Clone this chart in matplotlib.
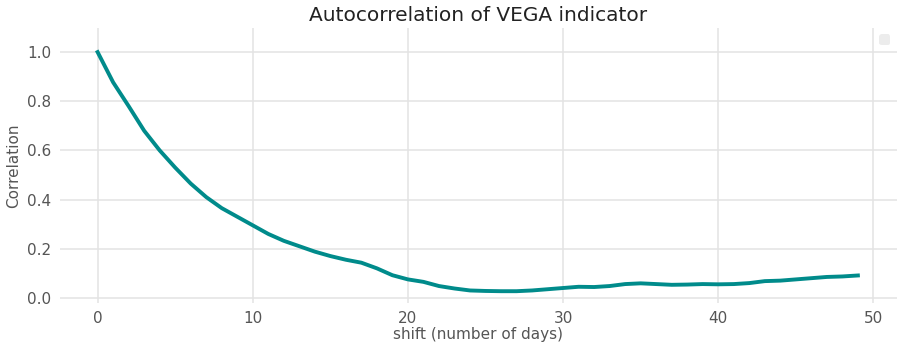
import matplotlib
matplotlib.use("Agg")
import matplotlib.pyplot as plt
import numpy as np

# autocorrelation values, one per shift
shift = np.arange(50)
corr = [1.0, 0.877, 0.78, 0.68, 0.60, 0.53, 0.465, 0.41, 0.365, 0.33,
        0.295, 0.26, 0.232, 0.21, 0.188, 0.17, 0.155, 0.143, 0.12, 0.092,
        0.075, 0.065, 0.048, 0.038, 0.03, 0.028, 0.027, 0.027, 0.03, 0.035,
        0.04, 0.045, 0.044, 0.048, 0.056, 0.059, 0.056, 0.053, 0.054, 0.056,
        0.055, 0.056, 0.06, 0.068, 0.07, 0.075, 0.08, 0.085, 0.087, 0.091]

fig, ax = plt.subplots(figsize=(9.03, 3.5), dpi=100)
fig.subplots_adjust(left=0.066, right=0.993, top=0.92, bottom=0.135)

ax.plot(shift, corr, color="#008b8b", linewidth=2.8)

# seaborn-like whitegrid look
for s in ax.spines.values():
    s.set_visible(False)
ax.grid(True, color="#e3e3e3", linewidth=1.1)
ax.set_axisbelow(True)
ax.tick_params(length=0, labelsize=11, colors="#555555", pad=6)

ax.set_xlim(-2.45, 51.5)
ax.set_ylim(-0.02, 1.098)
ax.set_xticks([0, 10, 20, 30, 40, 50])
ax.set_yticks([0.0, 0.2, 0.4, 0.6, 0.8, 1.0])

ax.set_title("Autocorrelation of VEGA indicator", fontsize=14.5, color="#222222", pad=5)
ax.set_xlabel("shift (number of days)", fontsize=11, color="#555555", labelpad=1)
ax.set_ylabel("Correlation", fontsize=11, color="#555555")

# empty legend box like the original
leg = ax.legend(handles=[], loc="upper right", facecolor="#e8e8e8",
                edgecolor="none", borderpad=0.4, borderaxespad=0.45)

fig.savefig("out.png", dpi=100)
